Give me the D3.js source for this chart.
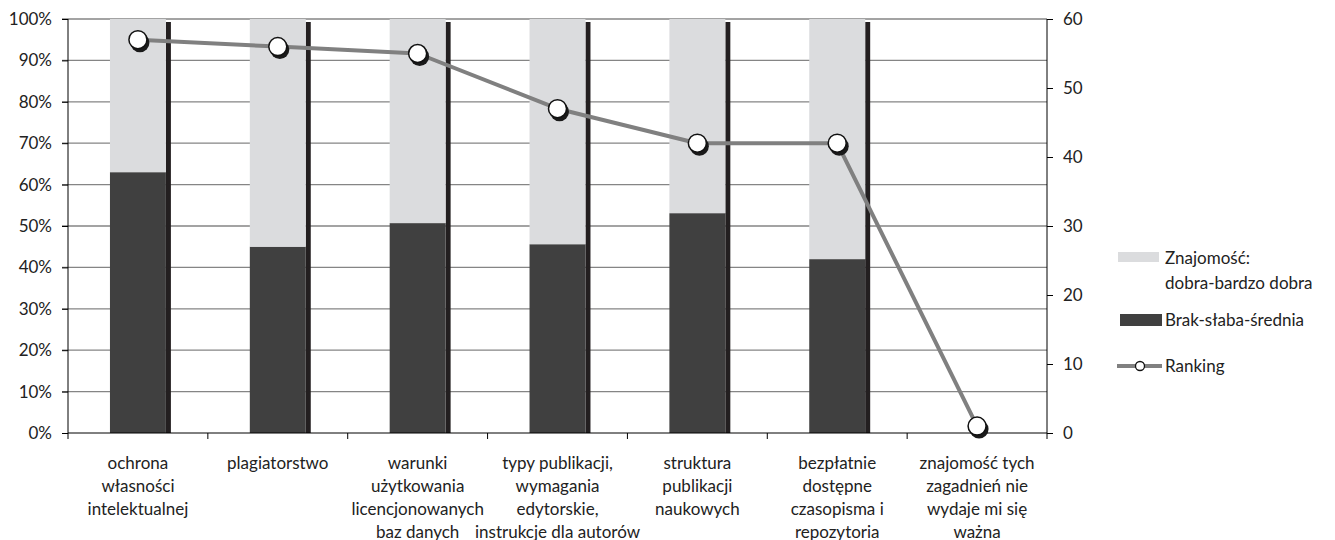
<!DOCTYPE html>
<html>
<head>
<meta charset="utf-8">
<script src="https://cdn.jsdelivr.net/npm/d3@7"></script>
<style>
  html, body { margin: 0; padding: 0; background: #fff; }
  svg { display: block; font-family: Lato, "Noto Sans", sans-serif; }
</style>
</head>
<body>
<svg id="chart" width="1335" height="540"></svg>
<script>
// ---- data ----
const categories = [
  "ochrona\nwłasności\nintelektualnej",
  "plagiatorstwo",
  "warunki\nużytkowania\nlicencjonowanych\nbaz danych",
  "typy publikacji,\nwymagania\nedytorskie,\ninstrukcje dla autorów",
  "struktura\npublikacji\nnaukowych",
  "bezpłatnie\ndostępne\nczasopisma i\nrepozytoria",
  "znajomość tych\nzagadnień nie\nwydaje mi się\nważna"
];
const lowKnowledge = [63, 45, 50.7, 45.6, 53.1, 42, 0];      // Brak-słaba-średnia (%)
const highKnowledge = [37, 55, 49.3, 54.4, 46.9, 58, 0];     // Znajomość: dobra-bardzo dobra (%)
const ranking = [57, 56, 55, 47, 42, 42, 1];
const leftTicks = [0, 10, 20, 30, 40, 50, 60, 70, 80, 90, 100];
const rightTicks = [0, 10, 20, 30, 40, 50, 60];
const seriesNames = ["Znajomość:\ndobra-bardzo dobra", "Brak-słaba-średnia", "Ranking"];

// ---- layout ----
const svg = d3.select("#chart");
const L = 68, R = 1047, T = 19, B = 433;
const fontSize = 17;
const textColor = "#222";

const x = d3.scaleBand().domain(categories).range([L, R]).paddingInner(0.6).paddingOuter(0.3);
const yL = d3.scaleLinear().domain([0, 100]).range([B, T]);
const yR = d3.scaleLinear().domain([0, 60]).range([B, T]);
const step = x.step(), bw = x.bandwidth();

// gridlines (with left tick extension)
svg.append("g").selectAll("line").data(leftTicks.filter(d => d > 0)).join("line")
  .attr("x1", L - 6).attr("x2", R)
  .attr("y1", d => yL(d)).attr("y2", d => yL(d))
  .attr("stroke", "#858585").attr("stroke-width", 1.3);

// left axis
const gL = svg.append("g").attr("transform", `translate(${L},0)`)
  .call(d3.axisLeft(yL).tickValues(leftTicks).tickFormat(d => d + "%").tickSize(6).tickPadding(10));
gL.select(".domain").attr("stroke", "#000").attr("d", `M0,${T}V${B}`);
gL.selectAll(".tick line").attr("stroke", "#000");
gL.selectAll(".tick text").attr("font-size", fontSize).attr("fill", textColor).attr("font-family", "Lato");

// right axis
const gR = svg.append("g").attr("transform", `translate(${R},0)`)
  .call(d3.axisRight(yR).tickValues(rightTicks).tickSize(6).tickPadding(10));
gR.select(".domain").attr("stroke", "#000").attr("d", `M0,${T}V${B}`);
gR.selectAll(".tick line").attr("stroke", "#000");
gR.selectAll(".tick text").attr("font-size", fontSize).attr("fill", textColor).attr("font-family", "Lato");

// bars: shadow, dark bottom, light top
const bars = svg.append("g");
categories.forEach((c, i) => {
  const total = lowKnowledge[i] + highKnowledge[i];
  if (total <= 0) return;
  bars.append("rect")
    .attr("x", x(c) + bw).attr("y", yL(total) + 3)
    .attr("width", 5).attr("height", B - yL(total) - 3)
    .attr("fill", "#231f20");
  bars.append("rect")
    .attr("x", x(c)).attr("y", yL(lowKnowledge[i]))
    .attr("width", bw).attr("height", B - yL(lowKnowledge[i]))
    .attr("fill", "#404040");
  bars.append("rect")
    .attr("x", x(c)).attr("y", yL(total))
    .attr("width", bw).attr("height", yL(lowKnowledge[i]) - yL(total))
    .attr("fill", "#dbdcde");
});

// bottom axis line and boundary ticks
svg.append("line").attr("x1", L).attr("x2", R).attr("y1", B).attr("y2", B).attr("stroke", "#000");
const boundaries = d3.range(categories.length + 1).map(i => L + i * step);
svg.append("g").selectAll("line").data(boundaries).join("line")
  .attr("x1", d => d).attr("x2", d => d).attr("y1", B).attr("y2", B + 6)
  .attr("stroke", "#000");

// x labels
const xl = svg.append("g");
categories.forEach(c => {
  const lines = c.split("\n");
  const t = xl.append("text").attr("text-anchor", "middle")
    .attr("font-size", fontSize).attr("fill", textColor);
  lines.forEach((ln, j) => {
    t.append("tspan").attr("x", x(c) + bw / 2).attr("y", 468.5 + j * 23).text(ln);
  });
});

// ranking line
const cx = c => x(c) + bw / 2;
const line = d3.line().x((d, i) => cx(categories[i])).y(d => yR(d));
svg.append("path").datum(ranking).attr("d", line)
  .attr("fill", "none").attr("stroke", "#808080").attr("stroke-width", 4).attr("stroke-linejoin", "round");
const pts = svg.append("g");
ranking.forEach((v, i) => {
  pts.append("circle").attr("cx", cx(categories[i]) + 2).attr("cy", yR(v) + 3).attr("r", 9.5).attr("fill", "#1a1a1a");
  pts.append("circle").attr("cx", cx(categories[i])).attr("cy", yR(v)).attr("r", 9).attr("fill", "#fff")
    .attr("stroke", "#111").attr("stroke-width", 1.5);
});

// legend
const lg = svg.append("g").attr("font-size", fontSize).attr("fill", textColor);
lg.append("rect").attr("x", 1118).attr("y", 252).attr("width", 41).attr("height", 10).attr("fill", "#dbdcde");
const t1 = lg.append("text").attr("fill", textColor);
seriesNames[0].split("\n").forEach((ln, j) => {
  t1.append("tspan").attr("x", 1165).attr("y", 264 + j * 25).text(ln);
});
lg.append("rect").attr("x", 1120).attr("y", 314).attr("width", 42).attr("height", 12).attr("fill", "#404040");
lg.append("text").attr("x", 1165).attr("y", 326).attr("fill", textColor).text(seriesNames[1]);
lg.append("line").attr("x1", 1117).attr("x2", 1162).attr("y1", 366).attr("y2", 366)
  .attr("stroke", "#808080").attr("stroke-width", 4);
lg.append("circle").attr("cx", 1140).attr("cy", 366).attr("r", 4.5).attr("fill", "#fff")
  .attr("stroke", "#111").attr("stroke-width", 1.3);
lg.append("text").attr("x", 1165).attr("y", 372).attr("fill", textColor).text(seriesNames[2]);
</script>
</body>
</html>
